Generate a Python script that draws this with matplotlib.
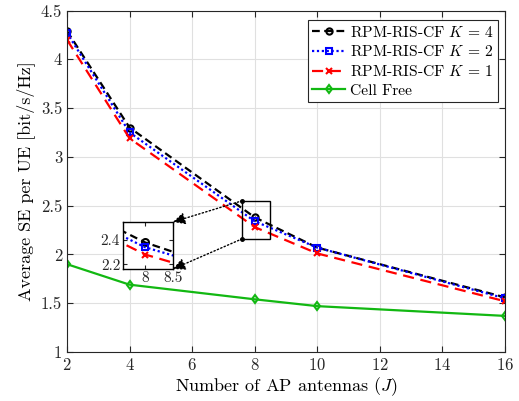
import matplotlib
matplotlib.use("Agg")
import matplotlib.pyplot as plt
from matplotlib.patches import Rectangle, ConnectionPatch

plt.rcParams['font.family'] = 'serif'
plt.rcParams['font.serif'] = ['cmr10']
plt.rcParams['mathtext.fontset'] = 'cm'
plt.rcParams['axes.formatter.use_mathtext'] = True

J = [2, 4, 8, 10, 16]
se_k4 = [4.29, 3.30, 2.38, 2.07, 1.56]
se_k2 = [4.27, 3.25, 2.34, 2.07, 1.55]
se_k1 = [4.20, 3.19, 2.28, 2.01, 1.52]
se_cf = [1.90, 1.69, 1.54, 1.47, 1.37]
xticks = [2, 4, 6, 8, 10, 12, 14, 16]
yticks = [1, 1.5, 2, 2.5, 3, 3.5, 4, 4.5]

green = '#12b812'
series = [
    (se_k4, 'k', (0, (3.5, 2)), 'o', r'RPM-RIS-CF $K$ = 4'),
    (se_k2, 'b', (0, (1, 1.2)), 's', r'RPM-RIS-CF $K$ = 2'),
    (se_k1, 'r', (0, (5, 3)), 'x', r'RPM-RIS-CF $K$ = 1'),
    (se_cf, green, '-', 'd', 'Cell Free'),
]

fig = plt.figure(figsize=(5.19, 4.01), dpi=100)
ax = fig.add_axes([67/519, 1 - 352/401, 438/519, (352-10.5)/401])

def draw(a, ms=4.5):
    for y, c, ls, m, lab in series:
        a.plot(J, y, color=c, linestyle=ls, marker=m, markersize=ms,
               markerfacecolor='none', markeredgecolor=c, markeredgewidth=1.5,
               linewidth=1.6, label=lab)

draw(ax)
ax.set_xlim(2, 16)
ax.set_ylim(1, 4.5)
ax.set_xticks(xticks)
ax.set_yticks(yticks)
ax.set_yticklabels(['1', '1.5', '2', '2.5', '3', '3.5', '4', '4.5'])
ax.grid(True, color='#e0e0e0', linewidth=0.8)
ax.set_axisbelow(True)
ax.tick_params(direction='in', top=True, right=True, labelsize=12, length=4, colors='#262626')
for s in ax.spines.values():
    s.set_linewidth(0.8)
    s.set_color('#262626')
ax.set_xlabel(r'Number of AP antennas ($J$)', fontsize=13, labelpad=2)
ax.set_ylabel(r'Average SE per UE [bit/s/Hz]', fontsize=13, labelpad=4)

leg = ax.legend(loc='upper right', fontsize=11.2, handlelength=2.1, handletextpad=0.3,
                borderpad=0.3, labelspacing=0.3, fancybox=False, framealpha=1,
                edgecolor='#262626', borderaxespad=0, bbox_to_anchor=(0.984, 0.972))
leg.get_frame().set_linewidth(0.8)

# zoom rectangle
x0, x1, y0, y1 = 7.6, 8.5, 2.16, 2.55
ax.add_patch(Rectangle((x0, y0), x1 - x0, y1 - y0, fill=False, edgecolor='k', linewidth=1.0, zorder=5))
ax.plot([x0, x0], [y0, y1], 'k.', markersize=5, zorder=6)

# inset axes
ins = fig.add_axes([123/519, 1 - 269/401, 50/519, 47/401])
draw(ins, ms=5)
ins.set_xlim(x0, x1)
ins.set_ylim(y0, y1)
ins.set_xticks([8, 8.5])
ins.set_xticklabels(['8', '8.5'])
ins.set_yticks([2.2, 2.4])
ins.set_yticklabels(['2.2', '2.4'])
ins.tick_params(direction='in', top=True, right=True, labelsize=11, length=3, pad=2, colors='#262626')
for s in ins.spines.values():
    s.set_linewidth(1.0)
    s.set_color('k')

for (xa, ya), (xb, yb) in [((x0, y1), (x1, y1)), ((x0, y0), (x1, y0))]:
    con = ConnectionPatch(xyA=(xa, ya), coordsA=ax.transData,
                          xyB=(xb, yb), coordsB=ins.transData,
                          arrowstyle='-|>,head_length=0.6,head_width=0.3', linestyle=':',
                          color='k', linewidth=1.0, mutation_scale=12, zorder=10)
    fig.add_artist(con)

fig.savefig('out.png', dpi=100)
